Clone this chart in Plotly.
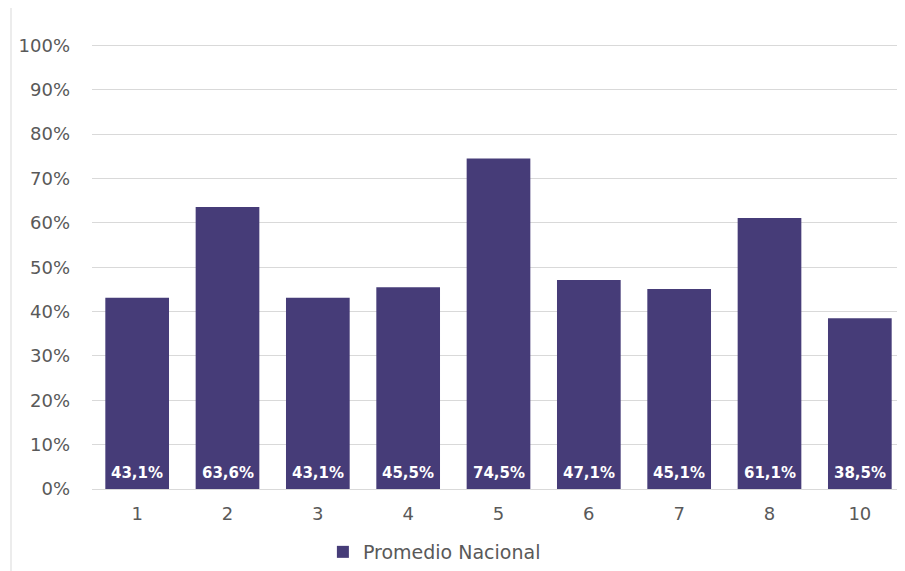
import plotly.graph_objects as go

categories = ["1", "2", "3", "4", "5", "6", "7", "8", "10"]
values = [0.431, 0.636, 0.431, 0.455, 0.745, 0.471, 0.451, 0.611, 0.385]
series_name = "Promedio Nacional"
tick_vals = [0, 0.1, 0.2, 0.3, 0.4, 0.5, 0.6, 0.7, 0.8, 0.9, 1.0]
tick_text = ["0%", "10%", "20%", "30%", "40%", "50%", "60%", "70%", "80%", "90%", "100%"]

bar_color = "#463C78"
font_family = "'DejaVu Sans', sans-serif"

fig = go.Figure()
fig.add_trace(go.Bar(
    x=categories,
    y=values,
    name=series_name,
    marker=dict(color=bar_color, line=dict(width=0)),
    showlegend=True,
    hovertemplate="%{x}: %{y:.1%}<extra></extra>",
))

annotations = []
for i, v in enumerate(values):
    annotations.append(dict(
        x=i, y=0, xref="x", yref="y",
        text="<b>" + f"{v*100:.1f}%".replace(".", ",") + "</b>",
        showarrow=False, yanchor="bottom", yshift=5,
        font=dict(color="white", size=15, family=font_family),
    ))

plot_h = 448
fig.update_layout(
    width=897,
    height=563,
    margin=dict(l=84, r=0, t=33, b=82, pad=0),
    paper_bgcolor="white",
    plot_bgcolor="white",
    font=dict(family=font_family, color="#595959"),
    separators=",.",
    bargap=0.295,
    showlegend=True,
    legend=dict(
        orientation="h",
        x=0.284, xanchor="left",
        y=-63 / plot_h, yanchor="middle",
        font=dict(size=19, color="#595959"),
        itemwidth=30,
    ),
    xaxis=dict(
        type="category",
        range=[-0.5, 8.5],
        showgrid=False,
        showline=False,
        ticks="",
        tickfont=dict(size=18, color="#595959"),
        ticklabelstandoff=12,
    ),
    yaxis=dict(
        range=[0, 1.01],
        tickvals=tick_vals,
        ticktext=tick_text,
        showgrid=True,
        gridcolor="#D9D9D9",
        gridwidth=1,
        zeroline=True,
        zerolinecolor="#D9D9D9",
        zerolinewidth=1,
        showline=False,
        ticks="",
        tickfont=dict(size=18, color="#595959"),
        ticklabelstandoff=21,
    ),
    annotations=annotations,
    shapes=[dict(
        type="line", xref="paper", yref="paper",
        x0=-81 / 813, x1=-81 / 813, y0=-90 / plot_h, y1=1 + 50 / plot_h,
        line=dict(color="#D9D9D9", width=1),
    )],
)

fig.write_html("out.html")
